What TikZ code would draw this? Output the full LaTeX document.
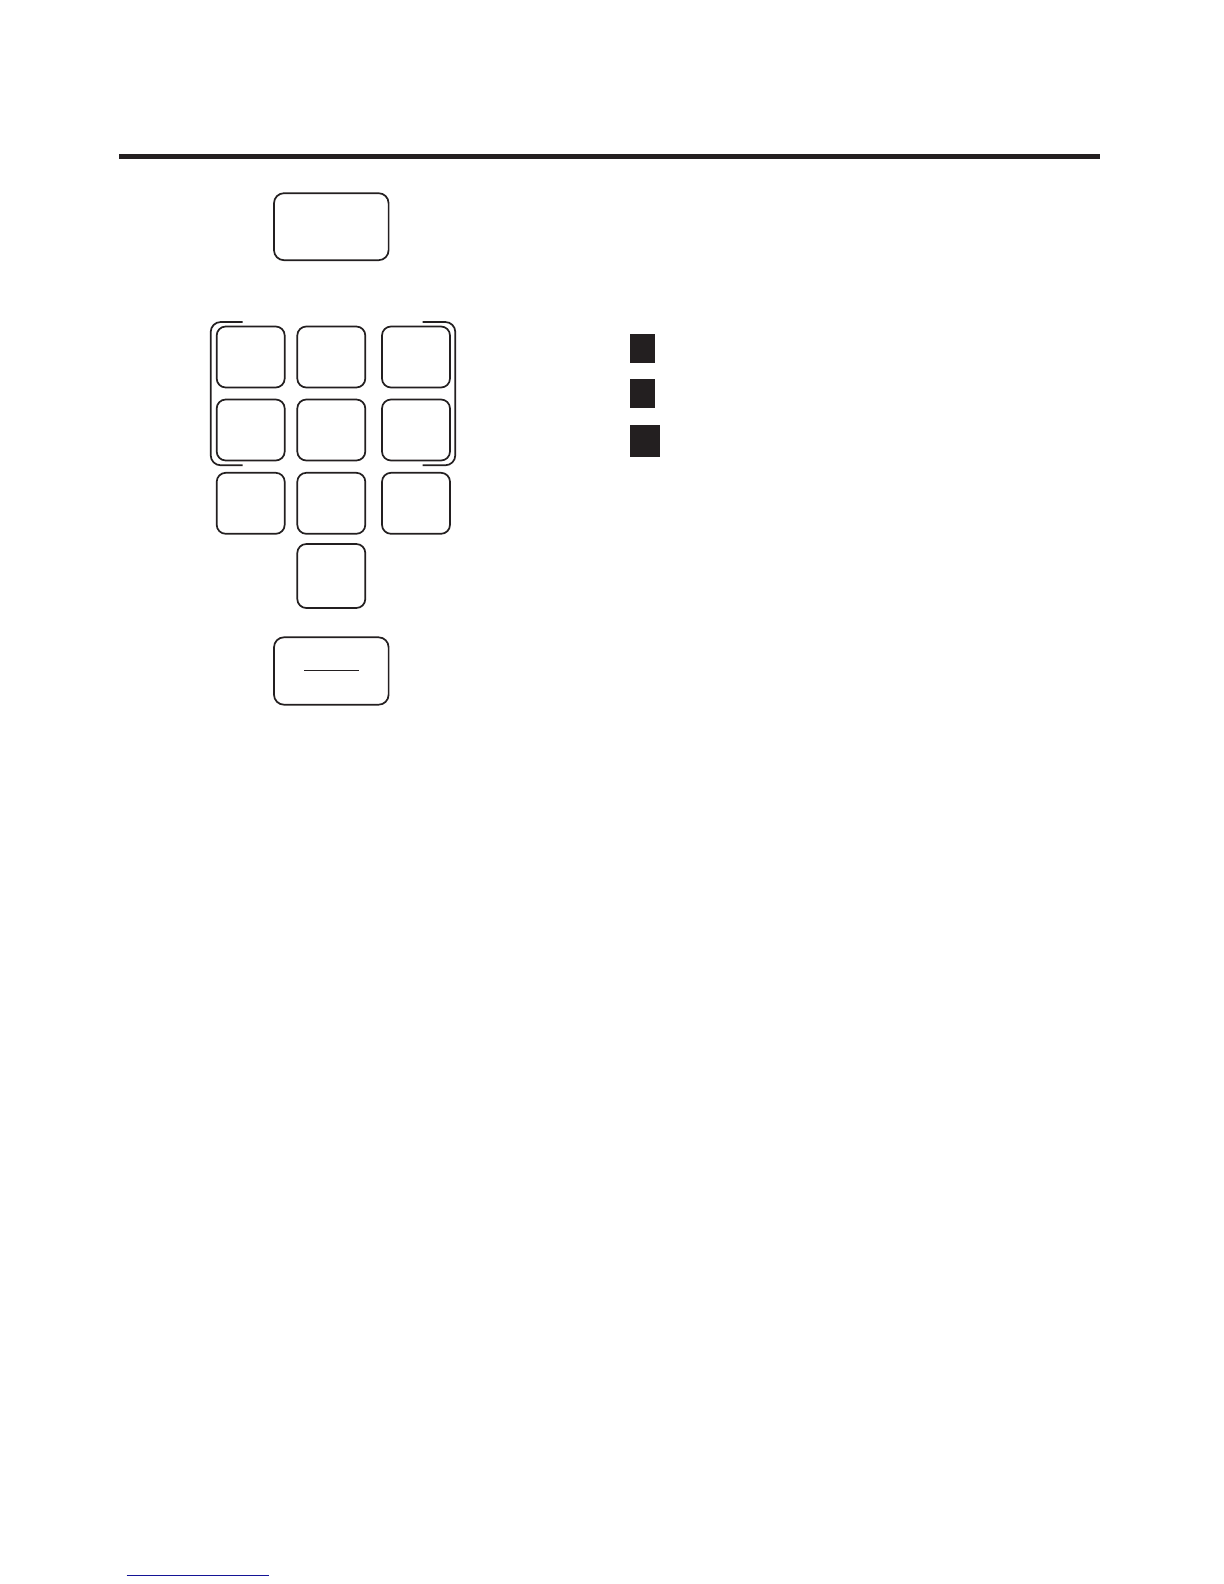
\documentclass[tikz,border=0pt]{standalone}
\definecolor{ink}{HTML}{231F20}
\definecolor{linkblue}{RGB}{20,20,150}
\begin{document}
\begin{tikzpicture}[x=0.5pt,y=-0.5pt,
  keybox/.style={draw=ink,line width=0.85pt,rounded corners=4.5pt,inner sep=0pt,outer sep=0pt,minimum width=34pt,minimum height=30.5pt},
  widebox/.style={draw=ink,line width=0.85pt,rounded corners=5pt,inner sep=0pt,outer sep=0pt,minimum width=57.3pt,minimum height=33.5pt},
  blk/.style={fill=ink,draw=none,inner sep=0pt,outer sep=0pt},
  bracket/.style={draw=ink,line width=0.85pt,rounded corners=5pt}]
\useasboundingbox[fill=white] (0,0) rectangle (1224,1584);
% top rule
\coordinate (rl) at (119,156.5);
\coordinate (rr) at (1100,156.5);
\draw[ink,line width=2.6pt] (rl) -- (rr);
% top box
\node[widebox] (top) at (331.3,226.7) {};
% keypad
\node[keybox] (k1) at (250.7,357) {};
\node[keybox] (k2) at (331.3,357) {};
\node[keybox] (k3) at (416,357) {};
\node[keybox] (k4) at (250.7,430) {};
\node[keybox] (k5) at (331.3,430) {};
\node[keybox] (k6) at (416,430) {};
\node[keybox] (k7) at (250.7,503.3) {};
\node[keybox] (k8) at (331.3,503.3) {};
\node[keybox] (k9) at (416,503.3) {};
\node[keybox,minimum height=32pt] (k0) at (331.3,576) {};
% brackets
\coordinate (blt) at (242.7,322);
\coordinate (blb) at (242.7,465.3);
\coordinate (brt) at (422.7,322);
\coordinate (brb) at (422.7,465.3);
\draw[bracket] (blt) -- (210.7,322) -- (210.7,465.3) -- (blb);
\draw[bracket] (brt) -- (455.3,322) -- (455.3,465.3) -- (brb);
% bottom box with line
\node[widebox,minimum height=33.7pt] (bot) at (331.3,671) {};
\coordinate (bl1) at (304.3,670.3);
\coordinate (bl2) at (358.7,670.3);
\draw[ink,line width=0.7pt] (bl1) -- (bl2);
% black squares
\node[blk,minimum width=12.5pt,minimum height=14.3pt] (s1) at (642.5,348.3) {};
\node[blk,minimum width=12.5pt,minimum height=14.5pt] (s2) at (642.5,393.5) {};
\node[blk,minimum width=15pt,minimum height=16pt] (s3) at (645,441) {};
% bottom blue line
\coordinate (u1) at (126.7,1575);
\coordinate (u2) at (269,1575);
\draw[linkblue,line width=0.5pt] (u1) -- (u2);
\end{tikzpicture}
\end{document}
